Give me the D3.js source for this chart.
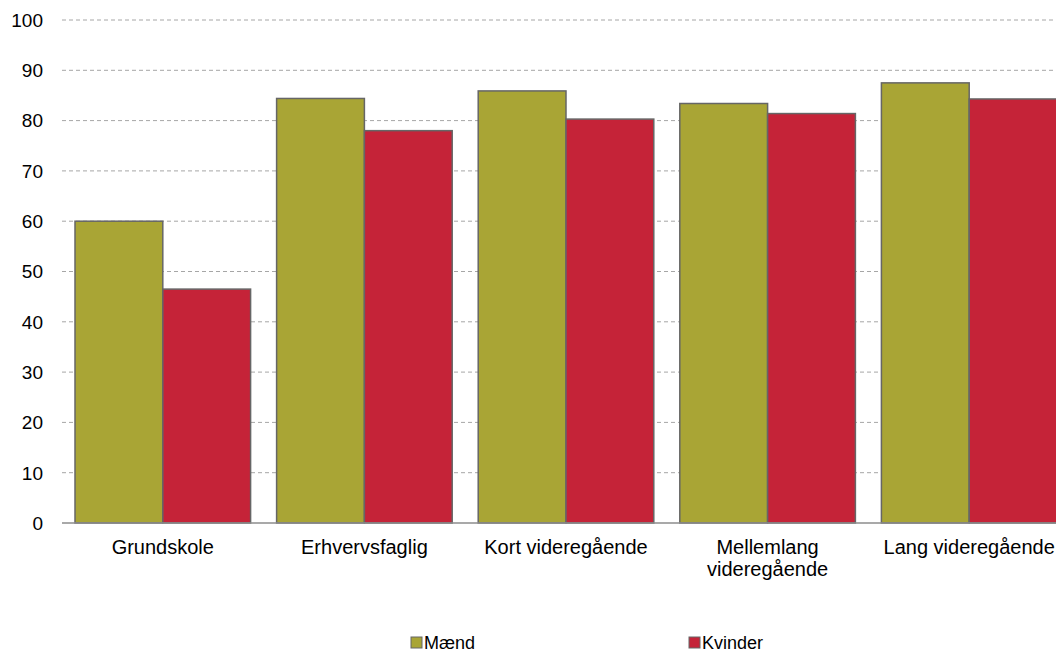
<!DOCTYPE html>
<html>
<head>
<meta charset="utf-8">
<script src="https://cdn.jsdelivr.net/npm/d3@7"></script>
<style>
  body { margin: 0; background: #fff; }
  text { font-family: "Liberation Sans", Arial, sans-serif; fill: #000; }
</style>
</head>
<body>
<svg id="chart" width="1056" height="653"></svg>
<script>
let categories = ["Grundskole", "Erhvervsfaglig", "Kort videregående", "Mellemlang videregående", "Lang videregående"];
let series = ["Mænd", "Kvinder"];
let maend = [60, 84.4, 85.9, 83.4, 87.5];
let kvinder = [46.5, 78.0, 80.3, 81.4, 84.3];
let yTicks = [0, 10, 20, 30, 40, 50, 60, 70, 80, 90, 100];
let colors = ["#a9a535", "#c52338"];

let svg = d3.select("#chart");

let x = d3.scaleBand()
    .domain(categories)
    .range([62, 1070])
    .paddingInner(0.129)
    .paddingOuter(0.0645);

let xs = d3.scaleBand()
    .domain(series)
    .range([0, x.bandwidth()]);

let y = d3.scaleLinear()
    .domain([0, 100])
    .range([523, 20]);

// gridlines
svg.append("g")
    .selectAll("line")
    .data(yTicks.filter(d => d > 0))
    .join("line")
    .attr("x1", 62)
    .attr("x2", 1056)
    .attr("y1", d => y(d))
    .attr("y2", d => y(d))
    .attr("stroke", "#a6a6a6")
    .attr("stroke-width", 1)
    .attr("stroke-dasharray", "4,3");

// y labels
svg.append("g")
    .selectAll("text")
    .data(yTicks)
    .join("text")
    .attr("x", 43)
    .attr("y", d => y(d))
    .attr("dy", "0.36em")
    .attr("text-anchor", "end")
    .style("font-size", "19px")
    .text(d => d);

// bars
let rows = categories.map((c, i) => ({cat: c, vals: [maend[i], kvinder[i]]}));

svg.append("g")
    .selectAll("g")
    .data(rows)
    .join("g")
    .attr("transform", d => `translate(${x(d.cat)},0)`)
    .selectAll("rect")
    .data(d => d.vals.map((v, j) => ({s: series[j], v: v, j: j})))
    .join("rect")
    .attr("x", d => xs(d.s))
    .attr("y", d => y(d.v))
    .attr("width", xs.bandwidth())
    .attr("height", d => y(0) - y(d.v))
    .attr("fill", d => colors[d.j])
    .attr("stroke", "#666666")
    .attr("stroke-width", 1.5);

// baseline
svg.append("line")
    .attr("x1", 62)
    .attr("x2", 1056)
    .attr("y1", y(0))
    .attr("y2", y(0))
    .attr("stroke", "#8c8c8c")
    .attr("stroke-width", 1.5);

// x labels
let xLabels = svg.append("g")
    .selectAll("text")
    .data(categories)
    .join("text")
    .attr("x", d => x(d) + x.bandwidth() / 2)
    .attr("y", 554)
    .attr("text-anchor", "middle")
    .style("font-size", "20px");

xLabels.each(function(d) {
    let lines = d === "Mellemlang videregående" ? ["Mellemlang", "videregående"] : [d];
    d3.select(this).selectAll("tspan")
        .data(lines)
        .join("tspan")
        .attr("x", x(d) + x.bandwidth() / 2)
        .attr("dy", (l, i) => i === 0 ? 0 : "1.1em")
        .text(l => l);
});

// legend
let legendX = [411, 689];
let legend = svg.append("g")
    .selectAll("g")
    .data(series)
    .join("g")
    .attr("transform", (d, i) => `translate(${legendX[i]},637)`);

legend.append("rect")
    .attr("width", 11)
    .attr("height", 11)
    .attr("fill", (d, i) => colors[i])
    .attr("stroke", "#666666")
    .attr("stroke-width", 1);

legend.append("text")
    .attr("x", 13)
    .attr("y", 5.5)
    .attr("dy", "0.36em")
    .style("font-size", "18px")
    .text(d => d);
</script>
</body>
</html>
